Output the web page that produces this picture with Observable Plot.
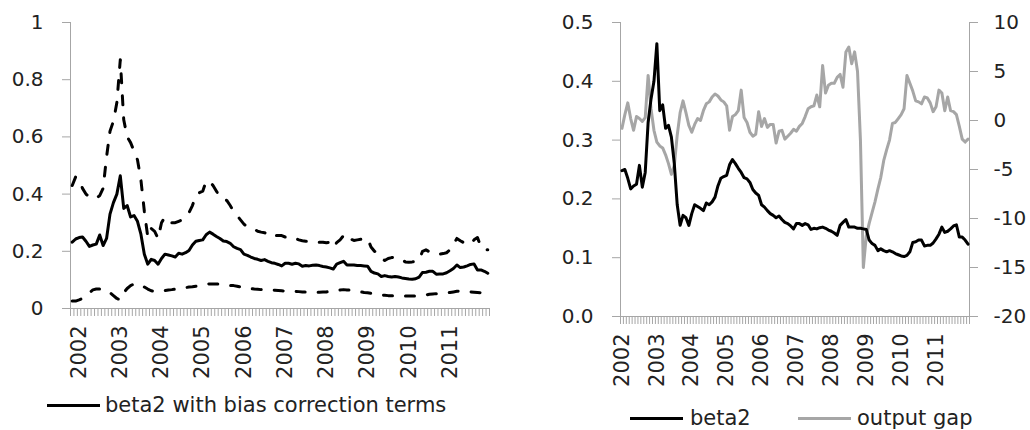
<!DOCTYPE html>
<html><head><meta charset="utf-8">
<script src="https://cdn.jsdelivr.net/npm/d3@7"></script>
<script src="https://cdn.jsdelivr.net/npm/@observablehq/plot@0.6"></script>
<style>
body{margin:0;background:#fff;}
#wrap{position:relative;width:1030px;height:430px;overflow:hidden;font-family:"DejaVu Sans",sans-serif;color:#222;background:#fff;}
#left{position:absolute;left:0;top:0;}
#right{position:absolute;left:515px;top:0;}
.lg{position:absolute;font-size:21px;white-space:nowrap;display:flex;align-items:center;line-height:normal;}
.sw{display:inline-block;width:53px;height:3px;}
</style></head><body>
<div id="wrap">
<div id="left"></div><div id="right"></div>
<div class="lg" style="left:47px;top:393px"><span class="sw" style="background:#000;margin-right:5px"></span><span>beta2 with bias correction terms</span></div>
<div class="lg" style="left:630px;top:406px"><span class="sw" style="background:#000;margin-right:7px"></span><span>beta2</span></div>
<div class="lg" style="left:798px;top:406px"><span class="sw" style="background:#a6a6a6;margin-right:6px"></span><span>output gap</span></div>
</div>
<script>
// ---- data ----
const yearLabels = ["2002","2003","2004","2005","2006","2007","2008","2009","2010","2011"];
// monthly, Jan 2002 .. Dec 2011
const beta2 = [
0.248,0.25,0.235,0.217,0.222,0.225,0.257,0.22,0.245,0.33,
0.37,0.40,0.464,0.35,0.36,0.32,0.325,0.305,0.26,0.19,
0.155,0.172,0.168,0.155,0.175,0.19,0.187,0.184,0.18,0.193,
0.19,0.195,0.203,0.222,0.235,0.238,0.24,0.258,0.267,0.26,
0.252,0.245,0.236,0.234,0.228,0.216,0.21,0.206,0.19,0.186,
0.18,0.175,0.172,0.168,0.171,0.165,0.16,0.158,0.154,0.149,
0.158,0.158,0.155,0.158,0.156,0.148,0.15,0.149,0.151,0.152,
0.15,0.147,0.145,0.142,0.138,0.155,0.16,0.165,0.152,0.152,
0.152,0.15,0.15,0.149,0.148,0.13,0.124,0.121,0.112,0.115,
0.112,0.11,0.112,0.11,0.107,0.105,0.103,0.102,0.104,0.11,
0.126,0.127,0.13,0.13,0.12,0.121,0.121,0.125,0.132,0.14,
0.152,0.143,0.145,0.149,0.154,0.156,0.135,0.135,0.13,0.123];
const outputGap = [
-0.8,0.6,1.8,0.2,-1.0,0.4,0.2,-0.1,0.3,4.6,
1.2,-1.0,-2.2,-2.6,-2.8,-3.5,-4.4,-5.5,-4.6,-1.5,
0.8,2.0,0.8,-0.5,-1.2,-0.4,0.2,0.0,1.0,1.7,
1.9,2.4,2.7,2.5,2.1,1.9,1.5,-1.0,0.4,0.6,
1.0,3.1,0.3,-0.2,-1.2,-1.6,-1.4,0.9,-0.6,0.2,
-0.7,-0.4,-0.4,-2.3,-1.1,-1.0,-1.9,-1.6,-1.3,-0.9,
-1.1,-0.6,-0.3,0.4,1.2,1.4,1.5,2.6,1.4,5.6,
2.8,3.6,3.8,3.8,4.4,4.7,3.4,7.0,7.5,5.8,
7.0,5.0,-2.0,-15.0,-11.8,-10.5,-9.4,-8.3,-7.0,-5.8,
-4.1,-3.0,-2.0,-0.3,-0.2,0.2,0.6,1.2,4.6,3.8,
3.0,2.0,1.9,1.7,2.4,2.3,1.8,0.9,1.4,3.1,
2.8,1.0,2.4,1.0,0.9,0.6,-0.6,-1.9,-2.2,-1.9];
// left panel: monthly, Nov 2001 .. Dec 2011 (two lead months)
const leadBeta2 = [0.232, 0.243];
const upperBound = [
0.43,0.46,0.45,0.42,0.40,0.39,0.39,0.385,0.395,0.42,
0.53,0.62,0.655,0.72,0.87,0.66,0.60,0.58,0.55,0.52,
0.45,0.34,0.25,0.28,0.27,0.245,0.30,0.32,0.313,0.30,
0.30,0.305,0.31,0.32,0.335,0.36,0.395,0.405,0.41,0.445,
0.445,0.43,0.41,0.39,0.38,0.378,0.36,0.34,0.325,0.31,
0.295,0.285,0.28,0.278,0.27,0.267,0.265,0.26,0.25,0.255,
0.255,0.255,0.25,0.252,0.25,0.245,0.24,0.237,0.235,0.235,
0.235,0.232,0.232,0.232,0.23,0.232,0.214,0.23,0.24,0.255,
0.26,0.243,0.238,0.24,0.242,0.243,0.245,0.215,0.2,0.192,
0.175,0.168,0.175,0.178,0.18,0.175,0.17,0.163,0.162,0.163,
0.165,0.168,0.2,0.205,0.198,0.192,0.19,0.19,0.192,0.195,
0.205,0.225,0.245,0.237,0.23,0.228,0.225,0.24,0.248,0.215,
0.205,0.205];
const lowerBound = [
0.026,0.026,0.03,0.035,0.045,0.055,0.065,0.068,0.068,0.066,
0.065,0.055,0.045,0.035,0.03,0.055,0.07,0.08,0.086,0.086,
0.082,0.075,0.068,0.062,0.06,0.06,0.062,0.063,0.065,0.066,
0.068,0.07,0.072,0.073,0.075,0.076,0.078,0.08,0.082,0.085,
0.086,0.086,0.086,0.085,0.082,0.08,0.08,0.08,0.078,0.075,
0.075,0.072,0.07,0.068,0.067,0.066,0.066,0.066,0.065,0.064,
0.063,0.062,0.061,0.06,0.06,0.06,0.059,0.058,0.058,0.058,
0.057,0.057,0.057,0.058,0.058,0.06,0.062,0.063,0.065,0.066,
0.065,0.064,0.062,0.06,0.058,0.056,0.055,0.053,0.05,0.048,
0.047,0.046,0.045,0.045,0.045,0.045,0.045,0.044,0.044,0.044,
0.044,0.045,0.046,0.047,0.05,0.051,0.052,0.052,0.053,0.055,
0.056,0.058,0.06,0.061,0.06,0.058,0.058,0.057,0.056,0.055,
0.054,0.054];
const leftTicks = [0,0.2,0.4,0.6,0.8,1];
const rightLeftTicks = [0,0.1,0.2,0.3,0.4,0.5];
const gapTicks = [-20,-15,-10,-5,0,5,10];

// ---- drawing ----
const axisGray = "#a6a6a6";
const textCol = "#222";
const font = '"DejaVu Sans", sans-serif';

const leftBeta = leadBeta2.concat(beta2);
const LEAD = leadBeta2.length;
const nL = leftBeta.length;
const leftData = leftBeta.map((v,k)=>({k:k+0.5, beta:v, up:upperBound[k], lo:lowerBound[k]}));
const yearPos = lead => yearLabels.map((y,j)=>lead + 12*j + 0.5);
const yearFmt = lead => d => yearLabels[Math.round((d - lead - 0.5)/12)];

const left = Plot.plot({
  width:515, height:385,
  marginLeft:70, marginRight:26, marginTop:22, marginBottom:77,
  style:{fontFamily:font, fontSize:"20px", color:textCol, background:"#fff", overflow:"visible"},
  x:{domain:[0,nL]},
  y:{domain:[0,1]},
  marks:[
    Plot.axisY(leftTicks, {tickSize:8, tickPadding:19, stroke:axisGray, fill:textCol, tickFormat:d3.format("~g"), label:null, fontSize:20}),
    Plot.axisX(d3.range(nL+1), {tickSize:8, stroke:axisGray, tickFormat:()=>"", label:null}),
    Plot.axisX(yearPos(LEAD), {tickSize:0, tickPadding:17, tickRotate:-90, tickFormat:yearFmt(LEAD), fill:textCol, label:null, fontSize:21}),
    Plot.ruleX([0], {y1:0, y2:1, stroke:axisGray}),
    Plot.ruleY([0], {x1:0, x2:nL, stroke:axisGray}),
    Plot.line(leftData, {x:"k", y:"up", stroke:"#000", strokeWidth:3, strokeDasharray:"9,13", strokeLinecap:"round"}),
    Plot.line(leftData, {x:"k", y:"lo", stroke:"#000", strokeWidth:3, strokeDasharray:"9,13", strokeLinecap:"round"}),
    Plot.line(leftData, {x:"k", y:"beta", stroke:"#000", strokeWidth:3})
  ]
});
document.getElementById("left").append(left);

const nR = beta2.length;
const gapToLeft = g => (g + 20) / 30 * 0.5;
const leftToGap = v => Math.round(v * 60 - 20);
const rightData = beta2.map((v,i)=>({i:i+0.5, beta:v, gap:outputGap[i]}));

const right = Plot.plot({
  width:515, height:395,
  marginLeft:105, marginRight:61, marginTop:22, marginBottom:79,
  style:{fontFamily:font, fontSize:"20px", color:textCol, background:"#fff", overflow:"visible"},
  x:{domain:[0,nR]},
  y:{domain:[0,0.5]},
  marks:[
    Plot.axisY(rightLeftTicks, {tickSize:8, tickPadding:19, stroke:axisGray, fill:textCol, tickFormat:d3.format(".1f"), label:null, fontSize:20}),
    Plot.axisY(gapTicks.map(gapToLeft), {anchor:"right", tickSize:8, tickPadding:16, stroke:axisGray, fill:textCol, tickFormat:v=>String(leftToGap(v)), label:null, fontSize:20}),
    Plot.axisX(d3.range(nR+1), {tickSize:8, stroke:axisGray, tickFormat:()=>"", label:null}),
    Plot.axisX(yearPos(0), {tickSize:0, tickPadding:17, tickRotate:-90, tickFormat:yearFmt(0), fill:textCol, label:null, fontSize:21}),
    Plot.ruleX([0, nR], {y1:0, y2:0.5, stroke:axisGray}),
    Plot.ruleY([0], {x1:0, x2:nR, stroke:axisGray}),
    Plot.line(rightData, {x:"i", y:d=>gapToLeft(d.gap), stroke:"#a6a6a6", strokeWidth:3}),
    Plot.line(rightData, {x:"i", y:"beta", stroke:"#000", strokeWidth:3})
  ]
});
document.getElementById("right").append(right);
</script>
</body></html>
